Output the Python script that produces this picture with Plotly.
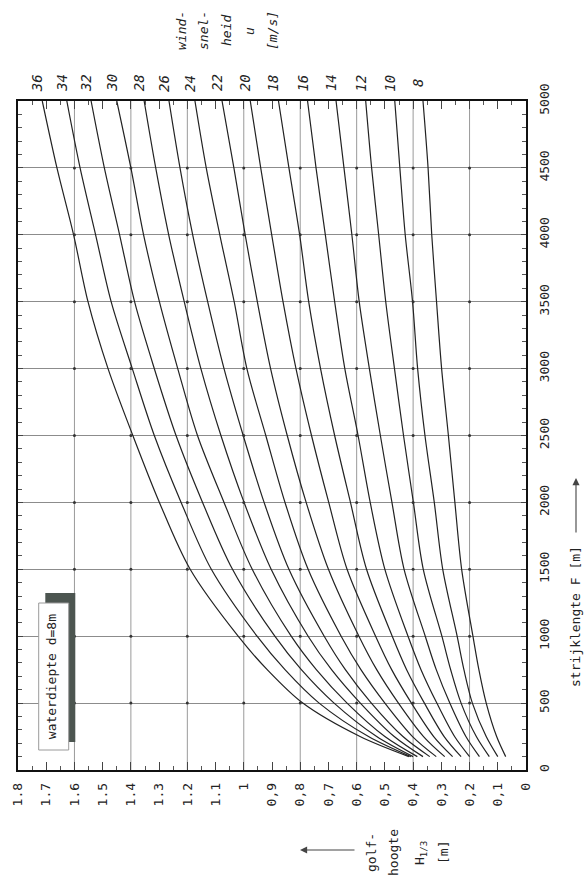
import numpy as np
import plotly.graph_objects as go

# ---------------- data ----------------
FETCH_M = [100, 250, 500, 750, 1000, 1500, 2000, 2500, 3000, 3500, 4000, 4500, 5000]
WIND_SPEEDS = [36, 34, 32, 30, 28, 26, 24, 22, 20, 18, 16, 14, 12, 10, 8]

H_U36 = [0.415, 0.588, 0.791, 0.917, 1.020, 1.190, 1.299, 1.393, 1.481, 1.552, 1.603, 1.662, 1.714]
H_U34 = [0.408, 0.558, 0.733, 0.854, 0.953, 1.115, 1.222, 1.317, 1.395, 1.470, 1.525, 1.580, 1.627]
H_U32 = [0.400, 0.529, 0.680, 0.796, 0.890, 1.040, 1.146, 1.240, 1.317, 1.387, 1.440, 1.494, 1.541]
H_U30 = [0.385, 0.500, 0.634, 0.743, 0.832, 0.970, 1.070, 1.164, 1.234, 1.299, 1.355, 1.400, 1.450]
H_U28 = [0.365, 0.467, 0.587, 0.689, 0.772, 0.903, 0.999, 1.081, 1.152, 1.211, 1.266, 1.312, 1.353]
H_U26 = [0.341, 0.436, 0.548, 0.640, 0.715, 0.840, 0.928, 1.002, 1.070, 1.128, 1.181, 1.226, 1.265]
H_U24 = [0.318, 0.402, 0.500, 0.585, 0.655, 0.772, 0.854, 0.922, 0.989, 1.034, 1.085, 1.133, 1.173]
H_U22 = [0.288, 0.363, 0.452, 0.529, 0.592, 0.700, 0.779, 0.846, 0.905, 0.952, 0.995, 1.035, 1.077]
H_U20 = [0.260, 0.327, 0.406, 0.476, 0.533, 0.634, 0.699, 0.760, 0.815, 0.861, 0.901, 0.940, 0.977]
H_U18 = [0.230, 0.290, 0.360, 0.423, 0.474, 0.565, 0.622, 0.678, 0.728, 0.770, 0.802, 0.840, 0.877]
H_U16 = [0.200, 0.253, 0.316, 0.372, 0.418, 0.500, 0.552, 0.595, 0.642, 0.678, 0.711, 0.744, 0.774]
H_U14 = [0.165, 0.213, 0.270, 0.318, 0.357, 0.432, 0.475, 0.516, 0.555, 0.591, 0.617, 0.645, 0.673]
H_U12 = [0.130, 0.176, 0.230, 0.267, 0.298, 0.364, 0.399, 0.434, 0.466, 0.497, 0.522, 0.547, 0.568]
H_U10 = [0.100, 0.141, 0.190, 0.220, 0.244, 0.295, 0.325, 0.358, 0.384, 0.402, 0.428, 0.447, 0.465]
H_U08 = [0.072, 0.104, 0.141, 0.167, 0.188, 0.228, 0.252, 0.275, 0.299, 0.317, 0.334, 0.347, 0.365]

H_SERIES = [H_U36, H_U34, H_U32, H_U30, H_U28, H_U26, H_U24, H_U22,
            H_U20, H_U18, H_U16, H_U14, H_U12, H_U10, H_U08]

H_TICK_VALUES = [0, 0.1, 0.2, 0.3, 0.4, 0.5, 0.6, 0.7, 0.8, 0.9,
                 1.0, 1.1, 1.2, 1.3, 1.4, 1.5, 1.6, 1.7, 1.8]
H_TICK_LABELS = ["0", "0,1", "0,2", "0,3", "0,4", "0,5", "0,6", "0,7", "0,8", "0,9",
                 "1", "1.1", "1.2", "1.3", "1.4", "1.5", "1.6", "1.7", "1.8"]
H_GRID = [0.2, 0.4, 0.6, 0.8, 1.0, 1.2, 1.4, 1.6]
F_TICK_VALUES = [0, 500, 1000, 1500, 2000, 2500, 3000, 3500, 4000, 4500, 5000]
F_GRID = [500, 1000, 1500, 2000, 2500, 3000, 3500, 4000, 4500]

# ---------------- layout constants ----------------
W, H = 585, 889
ML, MR, MT, MB = 18, 59, 101, 119
PW, PH = W - ML - MR, H - MT - MB
MONO = "DejaVu Sans Mono"
INK = "#222222"
ROT_XSHIFT = -2   # small compensation for rotated text placement


def px(xp):
    return (xp - ML) / PW


def py(yp):
    return (H - MB - yp) / PH


fig = go.Figure()

for u, h in zip(WIND_SPEEDS, H_SERIES):
    fig.add_trace(go.Scatter(
        x=h, y=FETCH_M, mode="lines",
        line=dict(color=INK, width=1.2, shape="spline", smoothing=0.9),
        hoverinfo="skip", showlegend=False, name=f"u={u}"))

# grid intersection dots
gx, gy = np.meshgrid(H_GRID, F_GRID)
fig.add_trace(go.Scatter(
    x=gx.ravel(), y=gy.ravel(), mode="markers",
    marker=dict(color="#333333", size=3), hoverinfo="skip", showlegend=False))

shapes = []
for hv in H_GRID:
    shapes.append(dict(type="line", xref="x", yref="paper", x0=hv, x1=hv, y0=0, y1=1,
                       layer="below", line=dict(color="#9a9a9a", width=1)))

# waterdiepte box with shadow
shapes.append(dict(type="rect", xref="paper", yref="paper",
                   x0=px(45.3), x1=px(75.3), y0=py(742), y1=py(593),
                   fillcolor="#4c5550", line=dict(width=0), layer="above"))
shapes.append(dict(type="rect", xref="paper", yref="paper",
                   x0=px(38.7), x1=px(68.7), y0=py(750), y1=py(603),
                   fillcolor="white", line=dict(color="#9a9a9a", width=1), layer="above"))

annotations = []
for u, h in zip(WIND_SPEEDS, H_SERIES):
    annotations.append(dict(x=h[-1], y=FETCH_M[-1], xref="x", yref="y",
                            text=str(u), showarrow=False, textangle=-90,
                            xanchor="center", yanchor="middle", yshift=18, xshift=-5,
                            font=dict(family=MONO, size=14, color=INK, style="italic")))

for txt, xp in zip(["wind-", "snel-", "heid", "u", "[m/s]"], [183, 205, 228, 251, 274]):
    annotations.append(dict(x=px(xp), y=py(31), xref="paper", yref="paper", text=txt,
                            showarrow=False, textangle=-90, xanchor="center", yanchor="middle",
                            xshift=ROT_XSHIFT,
                            font=dict(family=MONO, size=13, color=INK, style="italic")))

for txt, xp in zip(["golf-", "hoogte", "H<sub>1/3</sub>", "[m]"], [373, 395, 422, 445]):
    annotations.append(dict(x=px(xp), y=py(853), xref="paper", yref="paper", text=txt,
                            showarrow=False, textangle=-90, xanchor="center", yanchor="middle",
                            xshift=ROT_XSHIFT,
                            font=dict(family=MONO, size=13, color=INK)))

annotations.append(dict(x=px(300), y=py(850), xref="paper", yref="paper", text="",
                        showarrow=True, ax=56, ay=0, arrowhead=2, arrowsize=1.3,
                        arrowwidth=1.1, arrowcolor="#444444"))

annotations.append(dict(x=px(577), y=py(617), xref="paper", yref="paper",
                        text="strijklengte F [m]", showarrow=False, textangle=-90,
                        xanchor="center", yanchor="middle", xshift=ROT_XSHIFT,
                        font=dict(family=MONO, size=13, color=INK)))
annotations.append(dict(x=px(576), y=py(478), xref="paper", yref="paper", text="",
                        showarrow=True, ax=0, ay=56, arrowhead=2, arrowsize=1.3,
                        arrowwidth=1.1, arrowcolor="#444444"))

annotations.append(dict(x=px(53.7), y=py(676.5), xref="paper", yref="paper",
                        text="waterdiepte d=8m", showarrow=False, textangle=-90,
                        xanchor="center", yanchor="middle", xshift=ROT_XSHIFT,
                        font=dict(family=MONO, size=13, color=INK)))

fig.update_layout(
    width=W, height=H, autosize=False,
    margin=dict(l=ML, r=MR, t=MT, b=MB, pad=0),
    paper_bgcolor="white", plot_bgcolor="white",
    showlegend=False, shapes=shapes, annotations=annotations,
    xaxis=dict(range=[1.8, 0], tickvals=H_TICK_VALUES, ticktext=H_TICK_LABELS,
               tickangle=-90, ticks="inside", ticklen=8, tickwidth=1, tickcolor="#444444",
               minor=dict(dtick=0.05, tick0=0, ticks="inside", ticklen=4,
                          tickcolor="#555555", showgrid=False),
               showgrid=False, zeroline=False, showline=True, linecolor="#111111",
               linewidth=1.5, mirror="ticks", ticklabelstandoff=6, automargin=False,
               tickfont=dict(family=MONO, size=13, color=INK)),
    yaxis=dict(range=[0, 5000], tickvals=F_TICK_VALUES, side="right",
               tickangle=-90, ticks="inside", ticklen=5, tickwidth=1, tickcolor="#444444",
               minor=dict(dtick=100, tick0=0, ticks="inside", ticklen=4,
                          tickcolor="#555555", showgrid=False),
               showgrid=True, gridcolor="#8c8c8c", gridwidth=1,
               zeroline=False, showline=True, linecolor="#111111",
               linewidth=1.5, mirror="ticks", ticklabelstandoff=6, automargin=False,
               tickfont=dict(family=MONO, size=13, color=INK)),
)

fig.write_html(
    "out.html",
    config={"displayModeBar": False},
    post_script="document.body.style.margin='0';document.body.style.overflow='hidden';",
)
